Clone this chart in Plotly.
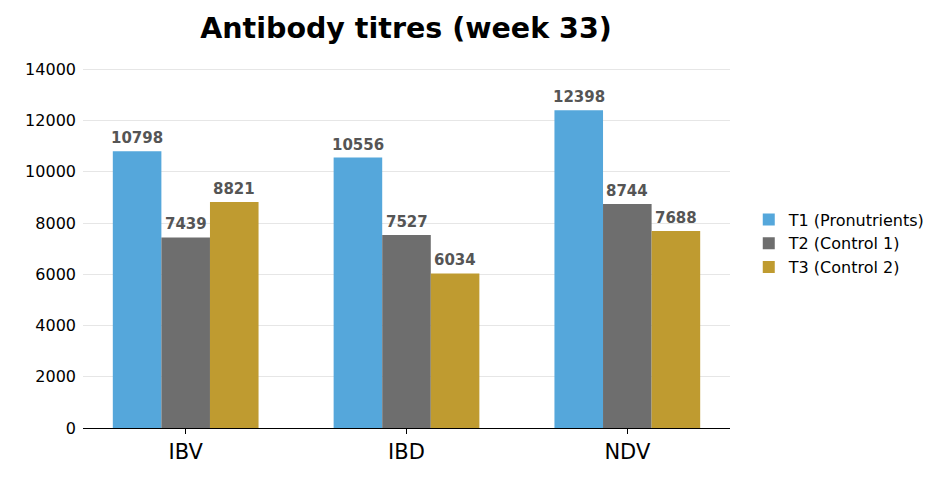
import plotly.graph_objects as go

categories = ["IBV", "IBD", "NDV"]
t1_values = [10798, 10556, 12398]
t2_values = [7439, 7527, 8744]
t3_values = [8821, 6034, 7688]
series_names = ["T1 (Pronutrients)", "T2 (Control 1)", "T3 (Control 2)"]
colors = ["#55A7DB", "#6E6E6E", "#BF9B30"]
y_ticks = [0, 2000, 4000, 6000, 8000, 10000, 12000, 14000]

bar_w = 0.22
offsets = [-bar_w, 0, bar_w]

fig = go.Figure()
for name, vals, col, off in zip(series_names, [t1_values, t2_values, t3_values], colors, offsets):
    xs = [i + off for i in range(len(categories))]
    fig.add_trace(go.Bar(
        x=xs, y=vals, name=name,
        marker=dict(color=col, line=dict(width=0)),
        width=bar_w,
    ))
    for x, v in zip(xs, vals):
        fig.add_annotation(
            x=x, y=v, text=f"<b>{v}</b>", showarrow=False,
            xanchor="center", yanchor="bottom", yshift=2,
            font=dict(family="DejaVu Sans", size=15, color="#555555"),
        )

fig.update_layout(
    width=950, height=482,
    barmode="overlay",
    paper_bgcolor="white", plot_bgcolor="white",
    margin=dict(l=75, r=228, t=51, b=62, autoexpand=False),
    title=dict(text="<b>Antibody titres (week 33)</b>", x=398 / 950, xanchor="center",
               y=1 - 20 / 482, yanchor="middle",
               font=dict(family="DejaVu Sans", size=28.5, color="black")),
    font=dict(family="DejaVu Sans", color="black"),
    legend=dict(x=1.029, y=0.50, xanchor="left", yanchor="middle",
                font=dict(size=16, color="black"), itemwidth=30, tracegroupgap=0),
    showlegend=True,
)
fig.update_xaxes(
    tickmode="array", tickvals=list(range(len(categories))), ticktext=categories,
    range=[-0.465, 2.465], showline=True, linecolor="black", linewidth=1.2,
    ticks="outside", ticklen=5, tickcolor="black", showgrid=False,
    tickfont=dict(size=21, color="black"), zeroline=False, automargin=False,
)
fig.update_yaxes(
    range=[0, 14400], tickmode="array", tickvals=y_ticks, ticktext=[str(t) for t in y_ticks],
    showgrid=True, gridcolor="#e6e6e6",
    gridwidth=1, zeroline=False, showline=False, ticks="",
    tickfont=dict(size=16, color="black"), ticklabelstandoff=6, automargin=False,
)
fig.write_html("out.html")
